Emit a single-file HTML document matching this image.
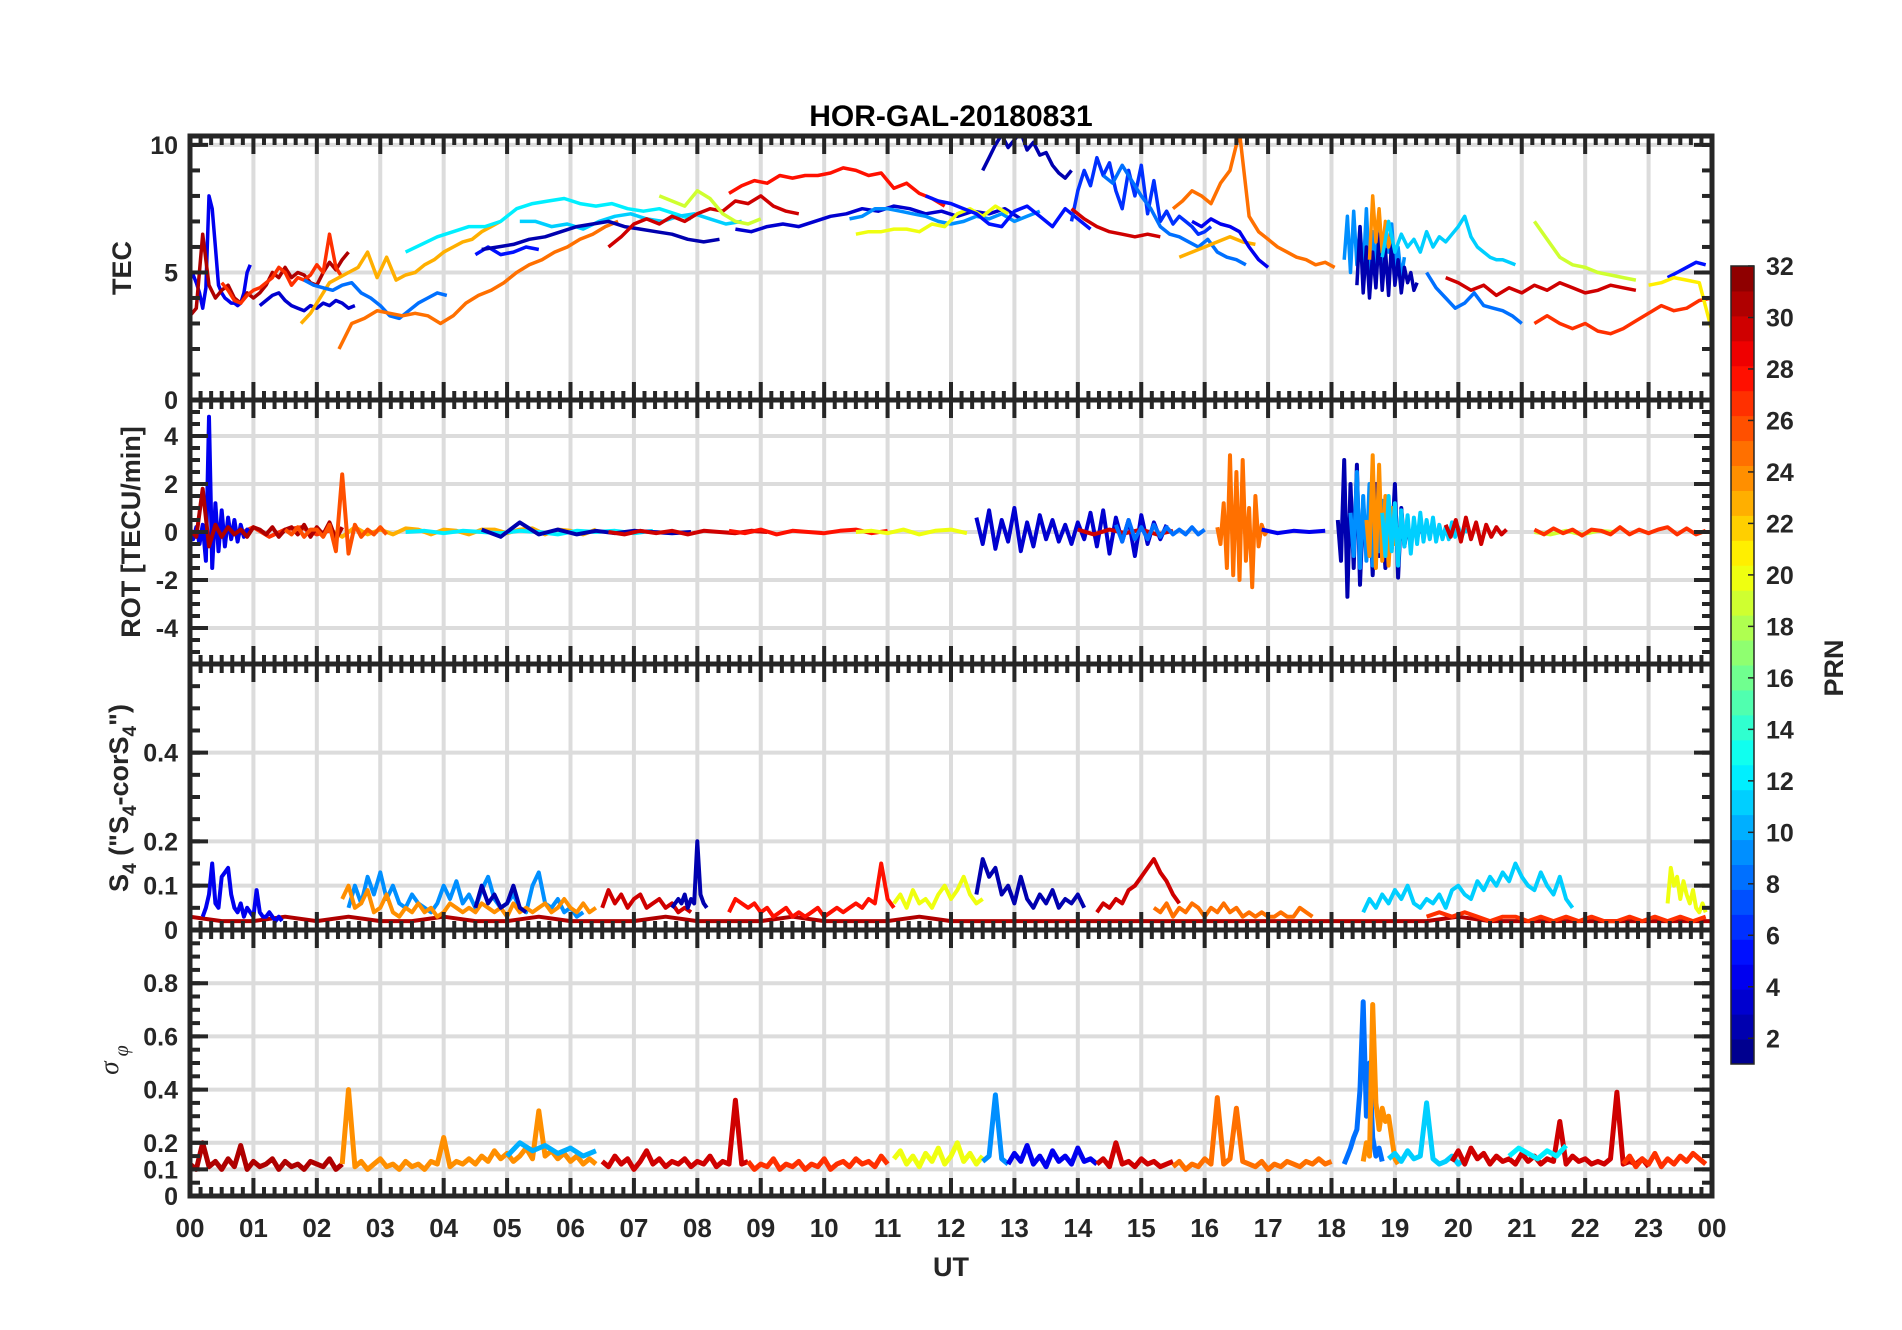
<!DOCTYPE html>
<html><head><meta charset="utf-8"><style>
html,body{margin:0;padding:0;background:#fff;}
svg{display:block;font-family:"Liberation Sans",Arial,sans-serif;}
</style></head><body>
<svg id="fig" width="1902" height="1330" viewBox="0 0 1902 1330" xmlns="http://www.w3.org/2000/svg"></svg>
<script>
// ---------- data (hours UT, values) ----------
const hourLabels = ["00","01","02","03","04","05","06","07","08","09","10","11","12","13","14","15","16","17","18","19","20","21","22","23","00"];
const cbTicks = [2,4,6,8,10,12,14,16,18,20,22,24,26,28,30,32];
const tecTicks = [0,5,10];
const rotTicks = [-4,-2,0,2,4];
const s4Ticks = [0,0.1,0.2,0.4];
const sigTicks = [0,0.1,0.2,0.4,0.6,0.8];

const tecSeries = [
 {prn:4,t0:0,dt:0.05,v:[5,4.9,4.6,4.2,3.6,4.4,8,7.5,6,4.5,4.2,4.0,3.9,3.8,3.8,3.7,3.8,4.2,5,5.3]},
 {prn:31,t0:0,dt:0.1,v:[3.3,3.6,6.5,4.5,4.0,4.3,4.5,4.0,3.8,4.2,4.0,4.2,4.5,5.0,4.8,5.2,4.8,5.0,4.9,4.6,4.5,5.0,5.4,5.1,5.5,5.8]},
 {prn:27,t0:0.5,dt:0.1,v:[4.6,4.3,3.9,3.8,4.1,4.3,4.4,4.6,4.8,5.2,5.0,4.5,4.8,4.7,4.9,5.3,5.0,6.5,5.2,4.8]},
 {prn:3,t0:1.1,dt:0.1,v:[3.7,3.9,4.1,4.2,3.9,3.7,3.6,3.5,3.7,3.6,3.8,3.7,3.9,3.8,3.6,3.7]},
 {prn:23,t0:1.75,dt:0.15,v:[3.0,3.4,4.0,4.6,4.8,5.0,5.2,5.8,4.8,5.6,4.7,4.9,5.0,5.3,5.5,5.8,6.0,6.2,6.3,6.6,6.8,7.0]},
 {prn:8,t0:1.8,dt:0.15,v:[4.7,4.5,4.4,4.3,4.5,4.6,4.2,4.0,3.7,3.3,3.2,3.5,3.8,4.0,4.2,4.1]},
 {prn:25,t0:2.35,dt:0.2,v:[2.0,3.0,3.2,3.5,3.4,3.3,3.4,3.3,3.0,3.3,3.8,4.1,4.3,4.6,5.0,5.3,5.5,5.8,6.0,6.3,6.5,6.8,7.0]},
 {prn:12,t0:3.4,dt:0.25,v:[5.8,6.1,6.4,6.6,6.8,6.8,7.0,7.5,7.7,7.8,7.9,7.7,7.6,7.7,7.5,7.4,7.5,7.3,7.1]},
 {prn:11,t0:5.2,dt:0.25,v:[7.0,7.0,6.8,6.9,6.7,7.0,7.2,7.3,7.1,7.0,7.2,7.3,7.1,6.9,7.0]},
 {prn:5,t0:4.5,dt:0.2,v:[5.7,6.0,5.7,5.8,6.0,5.9]},
 {prn:2,t0:4.6,dt:0.25,v:[5.9,6.0,6.1,6.3,6.4,6.6,6.8,6.9,7.0,6.8,6.7,6.6,6.5,6.3,6.2,6.3]},
 {prn:30,t0:6.6,dt:0.2,v:[6.0,6.4,6.9,7.1,6.9,7.2,7.0,7.3,7.5,7.4,7.8,7.7,8.0,7.6,7.4,7.3]},
 {prn:19,t0:7.4,dt:0.2,v:[8.0,7.8,7.6,8.2,7.9,7.3,7.0,6.9,7.1]},
 {prn:28,t0:8.5,dt:0.2,v:[8.1,8.4,8.6,8.5,8.8,8.7,8.8,8.8,8.9,9.1,9.0,8.8,8.9,8.3,8.5,8.1,7.9,7.6]},
 {prn:3,t0:8.6,dt:0.25,v:[6.7,6.6,6.8,6.9,6.8,7.0,7.2,7.3,7.5,7.4,7.6,7.5,7.3,7.4,7.2,7.4,7.3,7.5,7.1]},
 {prn:9,t0:10.4,dt:0.2,v:[7.1,7.2,7.5,7.5,7.4,7.3,7.2,7.0,6.9,7.0,7.2,7.1,7.3,7.0,7.2,7.4]},
 {prn:20,t0:10.5,dt:0.2,v:[6.5,6.6,6.6,6.7,6.7,6.6,6.9,6.8,7.3,7.5,7.2,7.6,7.3]},
 {prn:5,t0:11.6,dt:0.2,v:[8.0,7.8,7.7,7.5,7.3,6.9,6.8,7.4,7.6,7.2,6.8,7.5,7.1,6.7]},
 {prn:2,t0:12.5,dt:0.1,v:[9.0,9.5,10.0,10.4,9.9,10.2,10.5,9.8,10.1,9.6,9.7,9.2,8.9,8.7,9.0]},
 {prn:6,t0:13.9,dt:0.1,v:[7.0,8.2,9.0,8.4,9.5,8.8,9.3,8.2,7.5,9.0,8.0,9.2,7.3,8.6,7.0,7.4,6.9,7.2,7.0,6.8,6.5,6.6,6.8]},
 {prn:8,t0:14.4,dt:0.15,v:[8.8,8.5,9.2,8.6,8.0,7.5,6.8,6.5,6.4,6.2,6.0,6.3,5.8,5.6,5.5,5.3]},
 {prn:30,t0:13.9,dt:0.2,v:[7.5,7.1,6.8,6.6,6.5,6.4,6.5,6.4]},
 {prn:25,t0:15.5,dt:0.15,v:[7.5,7.8,8.2,8.0,7.7,8.5,9.0,10.5,7.2,6.6,6.3,6.0,5.8,5.6,5.5,5.3,5.4,5.2]},
 {prn:23,t0:15.6,dt:0.2,v:[5.6,5.8,6.0,6.2,6.4,6.2,6.1]},
 {prn:4,t0:15.8,dt:0.15,v:[7.0,6.8,7.1,6.9,6.8,6.6,6.0,5.5,5.2]},
 {prn:9,t0:18.2,dt:0.05,v:[5.5,7.2,5.0,7.4,5.3,6.8,5.0,7.5,4.8,6.6,5.2,7.0,4.6,6.2,5.8,6.9,5.1,6.0,4.8,5.6]},
 {prn:2,t0:18.4,dt:0.05,v:[4.5,6.8,4.2,6.0,4.0,5.8,4.4,6.5,4.3,5.9,4.1,6.3,4.5,5.5,4.2,5.2,4.6,5.0,4.3,4.6]},
 {prn:24,t0:18.6,dt:0.05,v:[5.5,8.0,6.2,7.5,5.8,7.0,6.0,6.5]},
 {prn:11,t0:18.8,dt:0.1,v:[5.6,7.0,5.8,6.5,6.0,6.3,5.8,6.6,6.0,6.4,6.2,6.5,6.8,7.2,6.4,6.0,5.8,5.6,5.5,5.5,5.4,5.3]},
 {prn:19,t0:21.2,dt:0.2,v:[7.0,6.3,5.6,5.3,5.2,5.0,4.9,4.8,4.7]},
 {prn:8,t0:19.5,dt:0.15,v:[5.0,4.4,4.0,3.6,3.8,4.2,3.7,3.6,3.5,3.3,3.0]},
 {prn:30,t0:19.8,dt:0.2,v:[4.8,4.6,4.3,4.5,4.1,4.4,4.2,4.5,4.3,4.6,4.4,4.2,4.3,4.5,4.4,4.3]},
 {prn:27,t0:21.2,dt:0.2,v:[3.0,3.3,3.0,2.8,3.0,2.7,2.6,2.8,3.1,3.4,3.7,3.5,3.6,3.9,4.0,4.2]},
 {prn:5,t0:23.3,dt:0.15,v:[4.8,5.0,5.2,5.4,5.3]},
 {prn:21,t0:23.0,dt:0.2,v:[4.5,4.6,4.8,4.7,4.6,2.7]}
];

const rotSeries = [
 {prn:27,t0:0.5,dt:0.25,v:[0.1,-0.1,0.2,-0.2,0.1,0.2,-0.1,0.1]},
 {prn:23,t0:2.2,dt:0.2,v:[0.1,-0.2,0.2,-0.1,0.1,-0.1,0.15,0.1,-0.1,0.1,0.05,-0.1,0.1,0.1,-0.05,0.1,0.15,-0.1,0.1,0.05,-0.1,0.1]},
 {prn:12,t0:3.4,dt:0.3,v:[0,0.05,-0.05,0.05,0,-0.05,0.05,0,-0.1,0.05,0,0.05,-0.05,0.05]},
 {prn:2,t0:4.6,dt:0.3,v:[0.1,-0.2,0.4,-0.1,0.1,-0.1,0.05,-0.05,0.05,0,-0.05,0]},
 {prn:30,t0:6.6,dt:0.25,v:[0,-0.1,0.05,-0.05,0.05,-0.1,0.05,0,-0.05,0.05,0]},
 {prn:28,t0:8.5,dt:0.25,v:[0.05,-0.05,0.1,-0.1,0.05,0,-0.05,0.05,0.1,-0.05,0.05]},
 {prn:20,t0:10.5,dt:0.25,v:[0,0.05,-0.05,0.1,-0.1,0.05,0.1,-0.05]},
 {prn:4,t0:0,dt:0.05,v:[0.1,-0.3,0.2,-0.5,0.3,-1.2,4.8,-1.5,1.2,-0.8,0.9,-0.6,0.6,-0.3,0.5,-0.4,0.3,-0.2,0.1,0]},
 {prn:31,t0:0,dt:0.1,v:[0.1,-0.2,1.8,-0.6,0.3,-0.2,0.2,-0.1,0.1,-0.2,0.2,0.1,-0.1,0.2,-0.2,0.1,0.2,-0.1,0.3,-0.2,0.2,-0.1,0.4,-0.3,0.2]},
 {prn:26,t0:1.5,dt:0.1,v:[0.1,-0.1,0.2,-0.2,0.1,0.1,-0.2,0.3,-0.8,2.4,-0.9,0.3,-0.2,0.1,-0.1,0.2,-0.1]},
 {prn:3,t0:12.4,dt:0.1,v:[0.6,-0.5,0.9,-0.7,0.5,-0.4,1.0,-0.8,0.4,-0.6,0.7,-0.3,0.5,-0.4,0.3,-0.5,0.4,-0.3,0.8,-0.6,0.9,-0.9,0.6,-0.4,0.5,-1.0,0.7,-0.5,0.4,-0.3,0.3]},
 {prn:30,t0:14.0,dt:0.25,v:[0.1,-0.1,0.1,-0.05,0.1,-0.1,0.05]},
 {prn:8,t0:14.6,dt:0.1,v:[0.3,-0.4,0.5,-0.3,0.2,-0.3,0.3,-0.2,0.2,-0.1,0.1,-0.1,0.2,-0.1,0.1]},
 {prn:25,t0:16.2,dt:0.05,v:[0.2,-0.5,1.2,-1.5,3.2,-1.8,2.5,-2.0,3.0,-1.2,1.0,-2.3,1.5,-0.6,0.3,-0.1,0.1]},
 {prn:4,t0:16.9,dt:0.25,v:[0.1,-0.05,0.05,0,0.05]},
 {prn:2,t0:18.1,dt:0.05,v:[0.5,-1.2,3.0,-2.7,2.0,-1.5,2.8,-2.2,1.2,-0.8,1.5,-1.8,2.0,-1.0,0.8,-1.5,1.2,-0.7,2.0,-1.9,1.0,-0.6,0.4,-0.5,0.3,-0.3,0.4,-0.2]},
 {prn:9,t0:18.3,dt:0.05,v:[0.8,-1.0,2.5,-1.5,1.5,-1.2,2.0,-1.4,1.0,-0.8,1.3,-0.9,0.8,-0.6,0.5,-0.4]},
 {prn:24,t0:18.55,dt:0.05,v:[0.5,-1.0,3.2,-1.5,2.8,-1.2,1.5,-1.4,1.0,-0.5,0.2]},
 {prn:11,t0:18.8,dt:0.05,v:[0.8,-1.0,1.5,-0.8,1.2,-1.4,0.9,-0.6,0.7,-0.9,0.6,-0.5,0.8,-0.4,0.5,-0.3,0.6,-0.4,0.3,-0.3,0.2,-0.3,0.4,-0.2,0.2,-0.2,0.1,0]},
 {prn:30,t0:19.8,dt:0.08,v:[0.3,-0.2,0.5,-0.4,0.6,-0.3,0.4,-0.5,0.3,-0.2,0.2,-0.1,0.1]},
 {prn:19,t0:21.2,dt:0.25,v:[0,-0.1,0.05,-0.1,0.05,0]},
 {prn:27,t0:21.2,dt:0.15,v:[0.1,-0.1,0.15,-0.05,0.1,-0.15,0.1,0.05,-0.1,0.2,-0.1,0.1,-0.05,0.1,0.2,-0.1,0.15,-0.1,0.05]}
];

const s4Series = [
 {prn:31,t0:0,dt:0.5,v:[0.03,0.02,0.02,0.03,0.02,0.03,0.02,0.02,0.03,0.02,0.02,0.03,0.02,0.02,0.02,0.03,0.02,0.02,0.02,0.03,0.02,0.02,0.02,0.03,0.02,0.02,0.02,0.02,0.02,0.02,0.02,0.02,0.02,0.02,0.02,0.02,0.02,0.02,0.02,0.02,0.03,0.02,0.02,0.02,0.02,0.02,0.02,0.02,0.02]},
 {prn:4,t0:0.2,dt:0.05,v:[0.03,0.05,0.08,0.15,0.06,0.05,0.12,0.13,0.14,0.08,0.05,0.04,0.06,0.03,0.05,0.04,0.03,0.09,0.04,0.03,0.03,0.04,0.03,0.02,0.03,0.02]},
 {prn:9,t0:2.5,dt:0.1,v:[0.05,0.1,0.06,0.12,0.08,0.13,0.07,0.1,0.06,0.05,0.08,0.06,0.05,0.04,0.06,0.1,0.07,0.11,0.06,0.08,0.05,0.09,0.12,0.07,0.05,0.06,0.08,0.05,0.04,0.1,0.13,0.06,0.05,0.07,0.04,0.05,0.03,0.04]},
 {prn:24,t0:2.4,dt:0.1,v:[0.07,0.1,0.05,0.06,0.09,0.04,0.05,0.08,0.04,0.03,0.05,0.04,0.06,0.04,0.05,0.03,0.04,0.06,0.05,0.04,0.05,0.04,0.06,0.05,0.04,0.05,0.03,0.06,0.04,0.05,0.04,0.05,0.06,0.04,0.05,0.07,0.05,0.04,0.06,0.04,0.05]},
 {prn:2,t0:4.5,dt:0.1,v:[0.05,0.1,0.06,0.08,0.05,0.06,0.1,0.05,0.04]},
 {prn:30,t0:6.5,dt:0.1,v:[0.05,0.09,0.06,0.08,0.05,0.07,0.08,0.05,0.06,0.07,0.05,0.06,0.04,0.05,0.04]},
 {prn:2,t0:7.6,dt:0.05,v:[0.05,0.06,0.07,0.06,0.08,0.05,0.07,0.06,0.2,0.08,0.06,0.05]},
 {prn:28,t0:8.5,dt:0.1,v:[0.04,0.07,0.06,0.05,0.06,0.04,0.05,0.03,0.04,0.05,0.03,0.04,0.03,0.04,0.05,0.03,0.04,0.05,0.04,0.05,0.06,0.05,0.07,0.06,0.15,0.07,0.05]},
 {prn:20,t0:11.1,dt:0.1,v:[0.06,0.08,0.05,0.09,0.06,0.07,0.05,0.08,0.1,0.07,0.09,0.12,0.08,0.06,0.07]},
 {prn:2,t0:12.4,dt:0.1,v:[0.08,0.16,0.12,0.14,0.08,0.1,0.06,0.12,0.07,0.05,0.08,0.06,0.09,0.05,0.07,0.06,0.08,0.05]},
 {prn:30,t0:14.3,dt:0.1,v:[0.04,0.06,0.05,0.07,0.06,0.09,0.1,0.12,0.14,0.16,0.13,0.11,0.08,0.06]},
 {prn:25,t0:15.2,dt:0.1,v:[0.05,0.04,0.06,0.03,0.05,0.04,0.06,0.05,0.03,0.05,0.04,0.06,0.04,0.05,0.03,0.04,0.03,0.04,0.03,0.03,0.04,0.03,0.03,0.05,0.04,0.03]},
 {prn:11,t0:18.5,dt:0.1,v:[0.04,0.07,0.05,0.08,0.06,0.09,0.07,0.1,0.06,0.05,0.07,0.06,0.08,0.05,0.09,0.1,0.08,0.07,0.11,0.09,0.12,0.1,0.13,0.11,0.15,0.12,0.1,0.09,0.13,0.1,0.08,0.12,0.07,0.05]},
 {prn:27,t0:19.5,dt:0.2,v:[0.03,0.04,0.03,0.04,0.03,0.02,0.03,0.03,0.02,0.03,0.02,0.03,0.02,0.03,0.02,0.02,0.03,0.02,0.03,0.02,0.03,0.02,0.03]},
 {prn:20,t0:23.3,dt:0.05,v:[0.06,0.14,0.1,0.12,0.07,0.11,0.08,0.06,0.09,0.05,0.04,0.06,0.04]}
];

const sigSeries = [
 {prn:31,t0:0,dt:0.1,v:[0.12,0.1,0.2,0.11,0.13,0.1,0.14,0.11,0.19,0.1,0.13,0.11,0.12,0.14,0.1,0.13,0.11,0.12,0.1,0.13,0.12,0.11,0.14,0.1,0.12]},
 {prn:24,t0:2.4,dt:0.1,v:[0.12,0.4,0.11,0.13,0.1,0.12,0.14,0.11,0.12,0.1,0.13,0.11,0.12,0.1,0.13,0.12,0.22,0.11,0.13,0.12,0.14,0.12,0.15,0.13,0.17,0.14,0.16,0.13,0.15,0.18,0.14,0.32,0.15,0.17,0.14,0.16,0.13,0.15,0.12,0.14,0.12]},
 {prn:10,t0:5.0,dt:0.2,v:[0.15,0.2,0.17,0.19,0.16,0.18,0.15,0.17]},
 {prn:30,t0:6.5,dt:0.1,v:[0.13,0.11,0.15,0.12,0.14,0.1,0.13,0.17,0.12,0.14,0.11,0.13,0.12,0.14,0.11,0.13,0.12,0.15,0.11,0.13,0.12,0.36,0.12,0.13]},
 {prn:27,t0:8.8,dt:0.1,v:[0.13,0.1,0.12,0.11,0.14,0.1,0.12,0.11,0.13,0.1,0.12,0.11,0.14,0.1,0.12,0.13,0.11,0.14,0.12,0.13,0.11,0.15,0.12]},
 {prn:20,t0:11.1,dt:0.1,v:[0.14,0.17,0.12,0.15,0.11,0.16,0.13,0.18,0.12,0.15,0.2,0.13,0.16,0.12,0.15]},
 {prn:9,t0:12.5,dt:0.1,v:[0.13,0.15,0.38,0.14,0.12]},
 {prn:4,t0:12.9,dt:0.1,v:[0.12,0.16,0.13,0.19,0.12,0.15,0.11,0.17,0.13,0.15,0.12,0.18,0.13,0.14,0.12]},
 {prn:30,t0:14.3,dt:0.1,v:[0.12,0.14,0.11,0.2,0.12,0.13,0.11,0.14,0.12,0.13,0.11,0.12,0.13]},
 {prn:25,t0:15.5,dt:0.1,v:[0.11,0.13,0.1,0.12,0.11,0.14,0.12,0.37,0.12,0.14,0.33,0.13,0.12,0.11,0.13,0.1,0.12,0.11,0.13,0.12,0.11,0.13,0.12,0.14,0.12,0.13]},
 {prn:8,t0:18.2,dt:0.05,v:[0.12,0.15,0.18,0.22,0.25,0.4,0.73,0.3,0.5,0.22,0.15,0.18,0.13]},
 {prn:24,t0:18.5,dt:0.05,v:[0.13,0.2,0.15,0.72,0.35,0.25,0.33,0.28,0.3,0.22,0.14,0.12]},
 {prn:11,t0:18.9,dt:0.1,v:[0.14,0.16,0.13,0.17,0.14,0.15,0.35,0.14,0.12,0.13,0.15,0.12,0.14]},
 {prn:30,t0:19.9,dt:0.1,v:[0.13,0.17,0.12,0.18,0.14,0.16,0.12,0.15,0.13,0.14,0.12,0.16,0.13,0.15,0.12,0.14,0.13,0.28,0.12,0.15,0.13,0.14,0.12,0.13,0.12,0.14,0.39,0.12,0.13,0.12,0.14,0.11]},
 {prn:12,t0:20.8,dt:0.15,v:[0.15,0.18,0.16,0.14,0.17,0.15,0.19]},
 {prn:27,t0:22.6,dt:0.1,v:[0.12,0.15,0.11,0.14,0.12,0.16,0.11,0.14,0.12,0.15,0.13,0.16,0.14,0.12]}
];

// ---------- layout ----------
const XL=190, XR=1712;
const X = h => XL + h*(XR-XL)/24;
const panels = [
 {name:"tec",top:136,bot:400,vmin:0,vmax:10.35,ticks:tecTicks,minor:1,series:tecSeries,sw:3.5},
 {name:"rot",top:400,bot:664,vmin:-5.5,vmax:5.5,ticks:rotTicks,minor:0.5,series:rotSeries,sw:4},
 {name:"s4",top:664,bot:930,vmin:0,vmax:0.6,ticks:s4Ticks,minor:0.05,series:s4Series,sw:4},
 {name:"sigma",top:930,bot:1196,vmin:0,vmax:1,ticks:sigTicks,minor:0.05,series:sigSeries,sw:5}
];
function jet(p){
 const t=(p-0.5)/32;
 const c=x=>Math.round(255*Math.max(0,Math.min(1,x)));
 return `rgb(${c(1.5-Math.abs(4*t-3))},${c(1.5-Math.abs(4*t-2))},${c(1.5-Math.abs(4*t-1))})`;
}
const NS="http://www.w3.org/2000/svg";
const svg=document.getElementById('fig');
function el(tag,attrs,parent){const e=document.createElementNS(NS,tag);for(const k in attrs)e.setAttribute(k,attrs[k]);(parent||svg).appendChild(e);return e;}
const AX="#262626";
const defs=el('defs',{});

panels.forEach(p=>{
 const Y=v=>p.bot-(v-p.vmin)/(p.vmax-p.vmin)*(p.bot-p.top);
 const g=el('g',{});
 
 
 const cp=el('clipPath',{id:'clip-'+p.name},defs);
 el('rect',{x:XL,y:p.top,width:XR-XL,height:p.bot-p.top},cp);
 // grid
 for(let h=1;h<24;h++) el('line',{x1:X(h),x2:X(h),y1:p.top,y2:p.bot,stroke:"#dcdcdc","stroke-width":4},g);
 p.ticks.forEach(v=>{ if(Y(v)>p.top+3&&Y(v)<p.bot-3) el('line',{x1:XL,x2:XR,y1:Y(v),y2:Y(v),stroke:"#dcdcdc","stroke-width":4},g);});
 // series
 const sg=el('g',{"clip-path":"url(#clip-"+p.name+")"},g);
 p.series.forEach(s=>{
   const pts=s.v.map((v,i)=>X(s.t0+i*s.dt).toFixed(1)+","+Y(v).toFixed(1)).join(" ");
   const line=el('polyline',{points:pts,fill:"none",stroke:jet(s.prn),"stroke-width":p.sw,"stroke-linejoin":"round"},sg);
   
   
 });
 // ticks x
 for(let m=0;m<=144;m++){
   const x=X(m/6), L=(m%6===0)?18:9;
   el('line',{x1:x,x2:x,y1:p.top,y2:p.top+L,stroke:AX,"stroke-width":4},g);
   el('line',{x1:x,x2:x,y1:p.bot,y2:p.bot-L,stroke:AX,"stroke-width":4},g);
 }
 for(let k=Math.ceil(p.vmin/p.minor);k*p.minor<=p.vmax;k++){
   const y=Y(k*p.minor);
   el('line',{x1:XL,x2:XL+10,y1:y,y2:y,stroke:AX,"stroke-width":4},g);
   el('line',{x1:XR,x2:XR-10,y1:y,y2:y,stroke:AX,"stroke-width":4},g);
 }
 p.ticks.forEach(v=>{
   const y=Y(v);
   el('line',{x1:XL,x2:XL+18,y1:y,y2:y,stroke:AX,"stroke-width":4},g);
   el('line',{x1:XR,x2:XR-18,y1:y,y2:y,stroke:AX,"stroke-width":4},g);
   const t=el('text',{x:178,y:y+9,"text-anchor":"end","font-size":25,"font-weight":"bold",fill:AX},g);
   t.textContent=String(v);
   
   
 });
 el('rect',{x:XL,y:p.top,width:XR-XL,height:p.bot-p.top,fill:"none",stroke:AX,"stroke-width":5},g);
});

// x labels
hourLabels.forEach((lab,i)=>{
 const t=el('text',{x:X(i),y:1237,"text-anchor":"middle","font-size":26,"font-weight":"bold",fill:AX});
 t.textContent=lab;
 
 
});

// colorbar
const CBX=1731,CBW=23,CBT=266,CBB=1064;
const cb=el('g',{});


for(let i=1;i<=32;i++){
 const h=(CBB-CBT)/32;
 el('rect',{x:CBX,y:CBB-i*h,width:CBW,height:h+0.5,fill:jet(i)},cb);
}
el('rect',{x:CBX,y:CBT,width:CBW,height:CBB-CBT,fill:"none",stroke:AX,"stroke-width":1.5},cb);
cbTicks.forEach(v=>{
 const y=CBB-(v-1)/31*(CBB-CBT);
 el('line',{x1:CBX+CBW-6,x2:CBX+CBW,y1:y,y2:y,stroke:AX,"stroke-width":1.5},cb);
 const t=el('text',{x:1766,y:y+9,"font-size":25,"font-weight":"bold",fill:AX},cb);
 t.textContent=String(v);
 
 
});

svg.insertAdjacentHTML('beforeend',`
 <text x="951" y="126" text-anchor="middle" font-size="30" font-weight="bold" fill="#000">HOR-GAL-20180831</text>
 <text x="951" y="1276" text-anchor="middle" font-size="27" font-weight="bold" fill="#262626">UT</text>
 <text transform="translate(131,268) rotate(-90)" text-anchor="middle" font-size="27" font-weight="bold" fill="#262626">TEC</text>
 <text transform="translate(140,532) rotate(-90)" text-anchor="middle" font-size="27" font-weight="bold" fill="#262626">ROT [TECU/min]</text>
 <text transform="translate(128,798) rotate(-90)" text-anchor="middle" font-size="27" font-weight="bold" fill="#262626">S<tspan font-size="19" dy="8">4</tspan><tspan dy="-8"> ("S</tspan><tspan font-size="19" dy="8">4</tspan><tspan dy="-8">-corS</tspan><tspan font-size="19" dy="8">4</tspan><tspan dy="-8">")</tspan></text>
 <text transform="translate(118,1060) rotate(-90)" text-anchor="middle" font-size="27" font-style="italic" fill="#262626" font-family="'Liberation Serif',serif">σ<tspan font-size="20" dy="10"> φ</tspan></text>
 <text transform="translate(1843,668) rotate(-90)" text-anchor="middle" font-size="27" font-weight="bold" fill="#262626">PRN</text>
`);
</script>
</body></html>
